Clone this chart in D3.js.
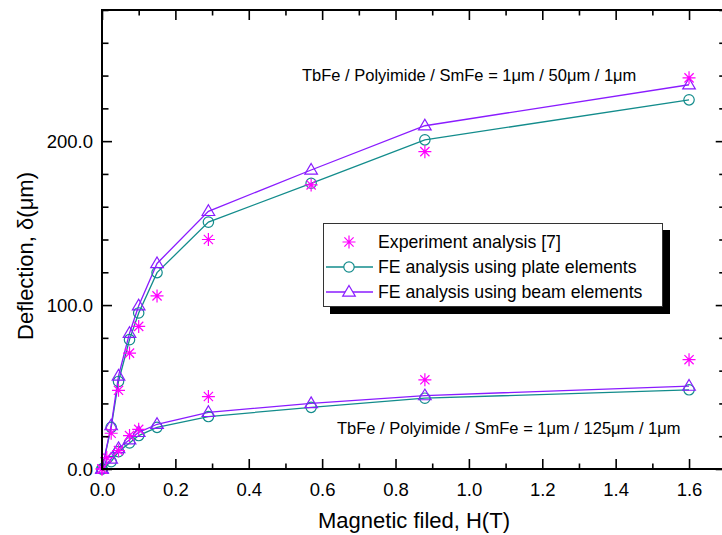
<!DOCTYPE html>
<html>
<head>
<meta charset="utf-8">
<script src="https://cdn.jsdelivr.net/npm/d3@7"></script>
<style>
  html, body { margin: 0; padding: 0; background: #fff; }
  svg { display: block; }
  text { font-family: "Liberation Sans", Arial, Helvetica, sans-serif; fill: #000; }
</style>
</head>
<body>
<svg id="chart" width="722" height="535"></svg>
<script>
// ---- data ----
const feField = [0, 0.025, 0.045, 0.075, 0.1, 0.15, 0.29, 0.57, 0.88, 1.6];
const plate50 = [0, 25.4, 53.4, 78.9, 95.2, 119.8, 150.6, 174.3, 200.8, 225.2];
const beam50  = [0, 26.5, 56.8, 82.8, 99.6, 125.4, 157.2, 182.4, 209.4, 234.4];
const plate125 = [0, 4.5, 10.6, 15.9, 20.4, 25.4, 32.0, 37.6, 43.2, 48.3];
const beam125  = [0, 6.1, 12.6, 17.9, 22.4, 27.3, 34.6, 40.0, 44.8, 50.6];
const exp50Field = [0, 0.025, 0.045, 0.075, 0.1, 0.15, 0.29, 0.57, 0.88, 1.6];
const exp50  = [0, 21.8, 48.0, 70.7, 87.0, 105.6, 140.0, 173.3, 193.6, 238.6];
const exp125Field = [0, 0.013, 0.045, 0.075, 0.1, 0.29, 0.88, 1.6];
const exp125 = [0, 7.0, 11.2, 20.4, 24.2, 44.2, 54.4, 66.7];
const xTicks = [0, 0.2, 0.4, 0.6, 0.8, 1.0, 1.2, 1.4, 1.6];
const yTicks = [0, 100, 200];
const legendLabels = ["Experiment analysis [7]", "FE analysis using plate elements", "FE analysis using beam elements"];
const note50 = "TbFe / Polyimide / SmFe = 1\u03bcm / 50\u03bcm / 1\u03bcm";
const note125 = "TbFe / Polyimide / SmFe = 1\u03bcm / 125\u03bcm / 1\u03bcm";
const xTitle = "Magnetic filed, H(T)";
const yTitle = "Deflection, \u03b4(\u03bcm)";

const cExp = "#ff00ff", cPlate = "#138c8c", cBeam = "#8a1cff";

// ---- layout ----
const L = 102, T = 10, B = 469;
const x = d3.scaleLinear().domain([0, 1.7]).range([L, L + 1.7 * 366.9]);
const y = d3.scaleLinear().domain([0, 280]).range([B, T]);
const R = x(1.7);

const svg = d3.select("#chart");
const g = svg.append("g");

// series lines
function series(xs, ys, color) {
  const pts = xs.map((v, i) => [v, ys[i]]);
  g.append("path").datum(pts)
    .attr("fill", "none").attr("stroke", color).attr("stroke-width", 1.3)
    .attr("d", d3.line().x(d => x(d[0])).y(d => y(d[1])));
  return pts;
}
function circles(pts, color) {
  g.selectAll(null).data(pts).enter().append("circle")
    .attr("cx", d => x(d[0])).attr("cy", d => y(d[1])).attr("r", 5.2)
    .attr("fill", "none").attr("stroke", color).attr("stroke-width", 1.2);
}
const triPath = "M0,-6.5 L6.3,4.2 L-6.3,4.2 Z";
function triangles(pts, color) {
  g.selectAll(null).data(pts).enter().append("path")
    .attr("transform", d => `translate(${x(d[0])},${y(d[1])})`)
    .attr("d", triPath)
    .attr("fill", "none").attr("stroke", color).attr("stroke-width", 1.2);
}
const starPath = "M0,-6.5V6.5M-6.5,0H6.5M-4.6,-4.6L4.6,4.6M-4.6,4.6L4.6,-4.6";
function stars(xs, ys, color) {
  g.selectAll(null).data(xs.map((v, i) => [v, ys[i]])).enter().append("path")
    .attr("transform", d => `translate(${x(d[0])},${y(d[1])})`)
    .attr("d", starPath)
    .attr("fill", "none").attr("stroke", color).attr("stroke-width", 1.2);
}

const p125 = series(feField, plate125, cPlate);
const b125 = series(feField, beam125, cBeam);
const p50 = series(feField, plate50, cPlate);
const b50 = series(feField, beam50, cBeam);
circles(p125, cPlate); circles(p50, cPlate);
triangles(b125, cBeam); triangles(b50, cBeam);
stars(exp50Field, exp50, cExp);
stars(exp125Field, exp125, cExp);

// ---- axes ----
const ax = svg.append("g");
function tickAxis(axisFn, scale, ticks, size, transform) {
  const a = axisFn(scale).tickValues(ticks).tickSize(size).tickFormat("");
  const sel = ax.append("g").attr("transform", transform).call(a);
  sel.select(".domain").remove();
  sel.selectAll("line").attr("stroke", "#000").attr("stroke-width", 1.6);
  return sel;
}
const xMajor = d3.range(0, 1.71, 0.2);
const xMinor = d3.range(0.1, 1.71, 0.2);
const yMajor = [0, 100, 200];
const yMinor = d3.range(20, 281, 20).filter(v => v % 100 !== 0);

tickAxis(d3.axisTop, x, xMajor, 10, `translate(0,${B})`);
tickAxis(d3.axisTop, x, xMinor, 5.5, `translate(0,${B})`);
tickAxis(d3.axisBottom, x, xMajor, 10, `translate(0,${T})`);
tickAxis(d3.axisBottom, x, xMinor, 5.5, `translate(0,${T})`);
tickAxis(d3.axisRight, y, yMajor, 10, `translate(${L},0)`);
tickAxis(d3.axisRight, y, yMinor, 6.5, `translate(${L},0)`);
tickAxis(d3.axisLeft, y, yMajor, 10, `translate(${R},0)`);
tickAxis(d3.axisLeft, y, yMinor, 6.5, `translate(${R},0)`);

// frame
ax.append("rect").attr("x", L).attr("y", T).attr("width", R - L).attr("height", B - T)
  .attr("fill", "none").attr("stroke", "#000").attr("stroke-width", 2);

// tick labels
const xLab = d3.axisBottom(x).tickValues(xTicks).tickSize(0).tickPadding(0).tickFormat(d3.format(".1f"));
const xl = ax.append("g").attr("transform", `translate(0,${B})`).call(xLab);
xl.select(".domain").remove();
xl.selectAll("text").attr("y", 27).attr("dy", null).style("font-size", "18.5px")
  .style("font-family", '"Liberation Sans", Arial, sans-serif');

const yLab = d3.axisLeft(y).tickValues(yTicks).tickSize(0).tickPadding(0).tickFormat(d3.format(".1f"));
const yl = ax.append("g").attr("transform", `translate(${L - 9},0)`).call(yLab);
yl.select(".domain").remove();
yl.selectAll("text").attr("x", 0).attr("dy", "0.36em").style("font-size", "18.5px")
  .style("font-family", '"Liberation Sans", Arial, sans-serif');

// axis titles
svg.append("text").attr("x", 414).attr("y", 528).attr("text-anchor", "middle")
  .style("font-size", "22px").text(xTitle);
svg.append("text").attr("transform", "translate(33,256) rotate(-90)").attr("text-anchor", "middle")
  .style("font-size", "22px").text(yTitle);

// annotations
svg.append("text").attr("x", 302).attr("y", 81).style("font-size", "16.5px").text(note50);
svg.append("text").attr("x", 337).attr("y", 434).style("font-size", "16.5px").text(note125);

// legend
const lg = svg.append("g");
lg.append("rect").attr("x", 330).attr("y", 230).attr("width", 340).attr("height", 84).attr("fill", "#000");
lg.append("rect").attr("x", 323.5).attr("y", 223.5).attr("width", 339).attr("height", 83)
  .attr("fill", "#fff").attr("stroke", "#333").attr("stroke-width", 1);
const rowsY = [242, 267, 292];
const symX = 349;
lg.append("path").attr("transform", `translate(${symX},${rowsY[0]})`).attr("d", starPath)
  .attr("fill", "none").attr("stroke", cExp).attr("stroke-width", 1.2);
lg.append("line").attr("x1", 326).attr("x2", 373).attr("y1", rowsY[1]).attr("y2", rowsY[1])
  .attr("stroke", cPlate).attr("stroke-width", 1.3);
lg.append("circle").attr("cx", symX).attr("cy", rowsY[1]).attr("r", 5.2).attr("fill", "#fff")
  .attr("stroke", cPlate).attr("stroke-width", 1.2);
lg.append("line").attr("x1", 326).attr("x2", 373).attr("y1", rowsY[2]).attr("y2", rowsY[2])
  .attr("stroke", cBeam).attr("stroke-width", 1.3);
lg.append("path").attr("transform", `translate(${symX},${rowsY[2]})`).attr("d", triPath)
  .attr("fill", "#fff").attr("stroke", cBeam).attr("stroke-width", 1.2);
lg.selectAll(null).data(legendLabels).enter().append("text")
  .attr("x", 378).attr("y", (d, i) => rowsY[i]).attr("dy", "0.36em")
  .style("font-size", "17.7px").text(d => d);
</script>
</body>
</html>
